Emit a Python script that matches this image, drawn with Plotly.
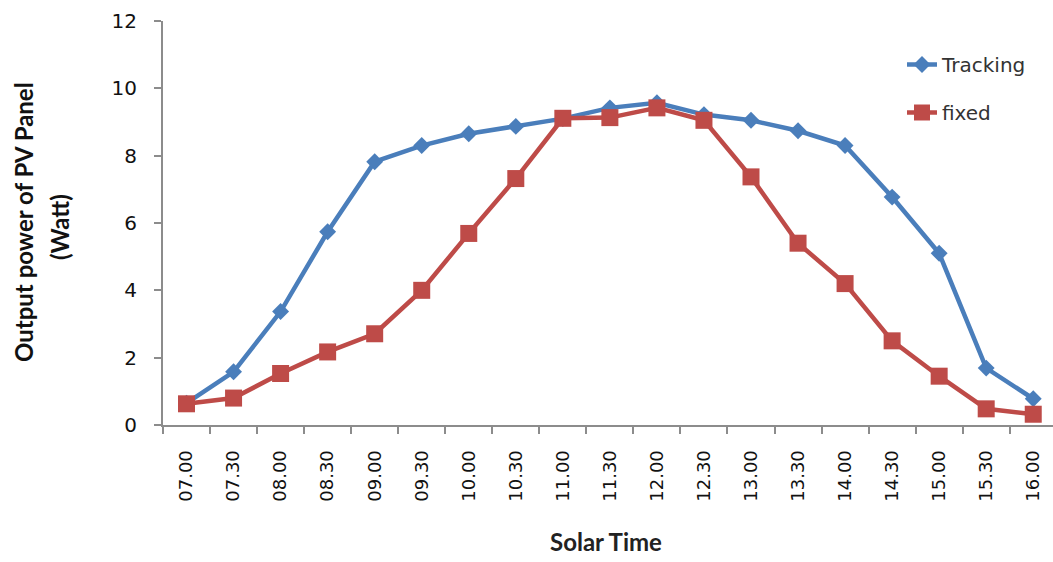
import plotly.graph_objects as go

times = ["07.00", "07.30", "08.00", "08.30", "09.00", "09.30", "10.00", "10.30",
         "11.00", "11.30", "12.00", "12.30", "13.00", "13.30", "14.00", "14.30",
         "15.00", "15.30", "16.00"]
tracking = [0.65, 1.58, 3.37, 5.74, 7.82, 8.3, 8.65, 8.87, 9.1, 9.42, 9.57,
            9.22, 9.05, 8.74, 8.3, 6.77, 5.1, 1.69, 0.78]
fixed = [0.63, 0.8, 1.53, 2.17, 2.71, 4.0, 5.69, 7.32, 9.11, 9.13, 9.42,
         9.05, 7.37, 5.4, 4.2, 2.5, 1.45, 0.48, 0.32]
y_ticks = [0, 2, 4, 6, 8, 10, 12]

BLUE = "#4A7EBB"
RED = "#BE4B48"
AXIS = "#8C8C8C"

fig = go.Figure()
fig.add_trace(go.Scatter(
    x=times, y=tracking, name="Tracking", mode="lines+markers",
    line=dict(color=BLUE, width=4.5),
    marker=dict(symbol="diamond", size=13, color=BLUE, line=dict(width=0)),
    legendgroup="a",
))
fig.add_trace(go.Scatter(
    x=times, y=fixed, name="fixed", mode="lines+markers",
    line=dict(color=RED, width=4.5),
    marker=dict(symbol="square", size=17, color=RED, line=dict(width=0)),
    legendgroup="b",
))

fig.update_layout(
    width=1053, height=562,
    margin=dict(l=163, r=0, t=21, b=137),
    paper_bgcolor="white", plot_bgcolor="white",
    showlegend=True,
    legend=dict(
        x=(902 - 163) / 890, xanchor="left",
        y=(425 - 45) / 404, yanchor="top",
        font=dict(family="DejaVu Sans", size=20, color="#333333"),
        bgcolor="rgba(0,0,0,0)", tracegroupgap=19, itemwidth=30,
    ),
    xaxis=dict(
        type="category", range=[-0.5, 18.42],
        showline=True, linecolor=AXIS, linewidth=2,
        ticks="outside", tickson="boundaries", ticklen=7, tickcolor=AXIS, tickwidth=2,
        tickangle=-90, ticklabelstandoff=16,
        tickfont=dict(family="DejaVu Sans", size=18, color="#111111"),
        showgrid=False, zeroline=False,
    ),
    yaxis=dict(
        range=[0, 12], tickvals=y_ticks,
        showline=True, linecolor=AXIS, linewidth=2,
        ticks="outside", ticklen=7, tickcolor=AXIS, tickwidth=2,
        ticklabelstandoff=13,
        tickfont=dict(family="DejaVu Sans", size=20, color="#111111"),
        showgrid=False, zeroline=False,
    ),
    annotations=[
        dict(text="<b>Output power of PV Panel</b>", xref="paper", yref="paper",
             x=(23 - 163) / 890, y=(425 - 222) / 404, xanchor="center", yanchor="middle",
             textangle=-90, showarrow=False,
             font=dict(family="Lato", size=24, color="#111111")),
        dict(text="<b>(Watt)</b>", xref="paper", yref="paper",
             x=(59 - 163) / 890, y=(425 - 227) / 404, xanchor="center", yanchor="middle",
             textangle=-90, showarrow=False,
             font=dict(family="Lato", size=24, color="#111111")),
        dict(text="<b>Solar Time</b>", xref="paper", yref="paper",
             x=(606 - 163) / 890, y=-(541 - 425) / 404, xanchor="center", yanchor="middle",
             showarrow=False,
             font=dict(family="Lato", size=24, color="#222222")),
    ],
)

fig.write_html("out.html")
